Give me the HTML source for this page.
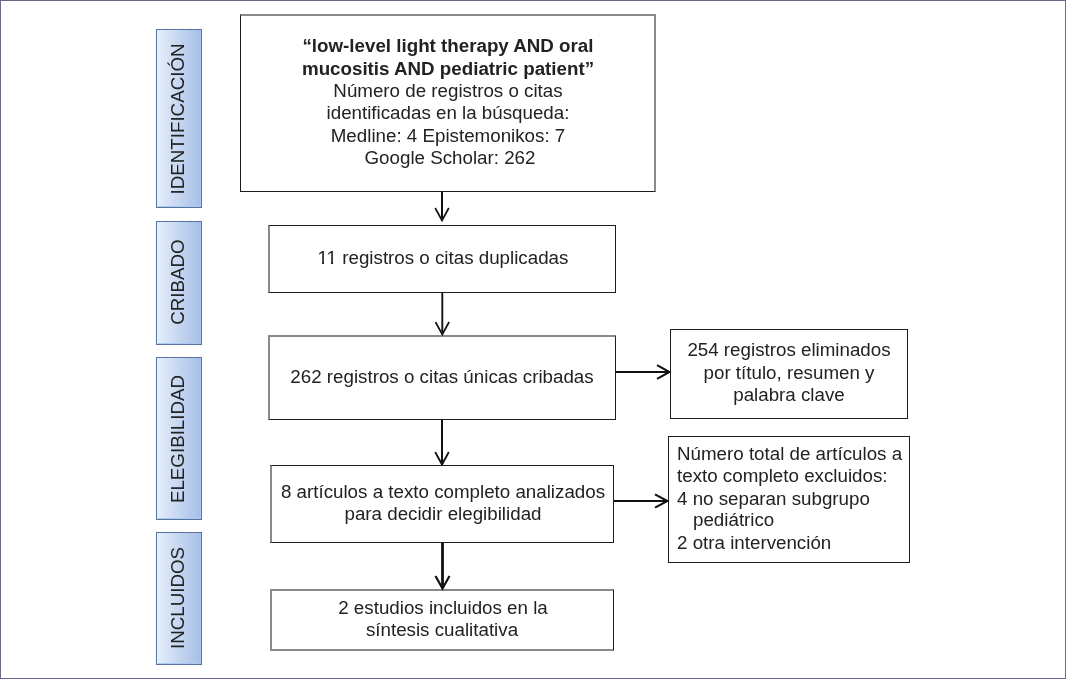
<!DOCTYPE html>
<html><head><meta charset="utf-8"><title>PRISMA</title><style>
html,body{margin:0;padding:0}
body{-webkit-font-smoothing:antialiased;width:1066px;height:679px;position:relative;overflow:hidden;background:#fff;font-family:"Liberation Sans",sans-serif;color:#222}
.frame{position:absolute;left:0;top:0;width:1066px;height:679px;box-sizing:border-box;border-style:solid;border-width:1px;border-color:#69668a #706b8e #6a629a #6e6a8c}
.box{position:absolute;box-sizing:border-box;border:1px solid #1c1c1c;background:#fff}
.lab{position:absolute;box-sizing:border-box;border:1px solid #58729f;background:linear-gradient(to right,#e6effb,#a6bee6);box-shadow:inset 1px 0 0 #e2f4ff,inset -1px -1px 0 #abc9f5}
.t{position:absolute;will-change:transform;white-space:pre;font-size:18.75px;line-height:22px}
.rt{position:absolute;will-change:transform;white-space:nowrap;font-size:18.75px;line-height:22px;width:300px;text-align:center;transform:rotate(-90deg);transform-origin:center center}
svg{position:absolute;left:0;top:0}
</style></head><body>
<div class="frame"></div>
<div class="box" style="left:240px;top:14px;width:416px;height:178px;border-left:1px solid #1c1c1c;border-top:2px solid #8a8a8a;border-right:2px solid #8a8a8a;border-bottom:1px solid #1c1c1c"></div>
<div class="box" style="left:268px;top:225px;width:348px;height:68px;border-left:2px solid #8a8a8a;border-top:1px solid #1c1c1c;border-right:1px solid #1c1c1c;border-bottom:1px solid #1c1c1c"></div>
<div class="box" style="left:268px;top:335px;width:348px;height:85px;border-left:2px solid #8a8a8a;border-top:2px solid #8a8a8a;border-right:1px solid #1c1c1c;border-bottom:1px solid #1c1c1c"></div>
<div class="box" style="left:270px;top:465px;width:344px;height:78px;border-left:2px solid #8a8a8a;border-top:1px solid #1c1c1c;border-right:1px solid #1c1c1c;border-bottom:1px solid #1c1c1c"></div>
<div class="box" style="left:270px;top:589px;width:344px;height:62px;border-left:2px solid #8a8a8a;border-top:2px solid #8a8a8a;border-right:1px solid #1c1c1c;border-bottom:2px solid #8a8a8a"></div>
<div class="box" style="left:670px;top:329px;width:238px;height:90px;border-left:1px solid #1c1c1c;border-top:1px solid #1c1c1c;border-right:1px solid #1c1c1c;border-bottom:1px solid #1c1c1c"></div>
<div class="box" style="left:668px;top:436px;width:242px;height:127px;border-left:1px solid #1c1c1c;border-top:1px solid #1c1c1c;border-right:1px solid #1c1c1c;border-bottom:1px solid #1c1c1c"></div>
<div class="lab" style="left:156px;top:29px;width:46px;height:179px"></div>
<div class="lab" style="left:156px;top:221px;width:46px;height:124px"></div>
<div class="lab" style="left:156px;top:357px;width:46px;height:163px"></div>
<div class="lab" style="left:156px;top:532px;width:46px;height:133px"></div>
<div class="rt" style="left:28.00px;top:107.50px">IDENTIFICACIÓN</div>
<div class="rt" style="left:28.00px;top:271.00px">CRIBADO</div>
<div class="rt" style="left:28.00px;top:427.70px">ELEGIBILIDAD</div>
<div class="rt" style="left:28.00px;top:586.80px">INCLUIDOS</div>
<div class="t" style="left:147.50px;width:600px;text-align:center;top:35.26px;font-weight:700;">“low-level light therapy AND oral</div>
<div class="t" style="left:147.50px;width:600px;text-align:center;top:58.16px;font-weight:700;">mucositis AND pediatric patient”</div>
<div class="t" style="left:147.50px;width:600px;text-align:center;top:80.26px;">Número de registros o citas</div>
<div class="t" style="left:147.50px;width:600px;text-align:center;top:102.26px;">identificadas en la búsqueda:</div>
<div class="t" style="left:147.50px;width:600px;text-align:center;top:125.26px;">Medline: 4 Epistemonikos: 7</div>
<div class="t" style="left:150.00px;width:600px;text-align:center;top:146.96px;">Google Scholar: 262</div>
<div class="t" style="left:142.70px;width:600px;text-align:center;top:247.36px;">11 registros o citas duplicadas</div>
<div class="t" style="left:142.30px;width:600px;text-align:center;top:366.46px;">262 registros o citas únicas cribadas</div>
<div class="t" style="left:489.00px;width:600px;text-align:center;top:339.26px;">254 registros eliminados</div>
<div class="t" style="left:489.00px;width:600px;text-align:center;top:361.96px;">por título, resumen y</div>
<div class="t" style="left:489.00px;width:600px;text-align:center;top:384.36px;">palabra clave</div>
<div class="t" style="left:143.00px;width:600px;text-align:center;top:480.56px;">8 artículos a texto completo analizados</div>
<div class="t" style="left:143.00px;width:600px;text-align:center;top:502.56px;">para decidir elegibilidad</div>
<div class="t" style="left:677.00px;top:442.66px;">Número total de artículos a</div>
<div class="t" style="left:677.00px;top:464.66px;">texto completo excluidos:</div>
<div class="t" style="left:677.00px;top:487.66px;">4 no separan subgrupo</div>
<div class="t" style="left:693.00px;top:509.26px;">pediátrico</div>
<div class="t" style="left:677.00px;top:531.56px;">2 otra intervención</div>
<div class="t" style="left:142.50px;width:600px;text-align:center;top:596.86px;">2 estudios incluidos en la</div>
<div class="t" style="left:142.00px;width:600px;text-align:center;top:618.56px;">síntesis cualitativa</div>
<svg width="1066" height="679" viewBox="0 0 1066 679">
<path d="M442.0 192 L442.0 218.5" stroke="#111" stroke-width="2.0" fill="none"/><path d="M435.2 208.0 L442.0 220.5 L448.8 208.0" stroke="#111" stroke-width="1.7" fill="none" stroke-linejoin="miter"/>
<path d="M442.3 293 L442.3 332.5" stroke="#111" stroke-width="1.9" fill="none"/><path d="M435.5 322.0 L442.3 334.5 L449.1 322.0" stroke="#111" stroke-width="1.7" fill="none" stroke-linejoin="miter"/>
<path d="M442.0 420 L442.0 462.5" stroke="#111" stroke-width="2.0" fill="none"/><path d="M435.2 452.0 L442.0 464.5 L448.8 452.0" stroke="#111" stroke-width="1.8" fill="none" stroke-linejoin="miter"/>
<path d="M442.5 543 L442.5 586.5" stroke="#111" stroke-width="2.8" fill="none"/><path d="M435.5 576.0 L442.5 588.5 L449.5 576.0" stroke="#111" stroke-width="2.2" fill="none" stroke-linejoin="miter"/>
<path d="M616 372.0 L669.5 372.0" stroke="#111" stroke-width="2.0" fill="none"/><path d="M657.0 365.2 L669.5 372.0 L657.0 378.8" stroke="#111" stroke-width="2.0" fill="none"/>
<path d="M614 501.0 L667.5 501.0" stroke="#111" stroke-width="2.0" fill="none"/><path d="M655.0 494.4 L667.5 501.0 L655.0 507.6" stroke="#111" stroke-width="2.0" fill="none"/>
<rect x="317" y="262" width="5" height="2" fill="#fff"/><rect x="324" y="262" width="4" height="2" fill="#fff"/><rect x="326" y="262" width="5" height="2" fill="#fff"/><rect x="333" y="262" width="4" height="2" fill="#fff"/></svg>
</body></html>
